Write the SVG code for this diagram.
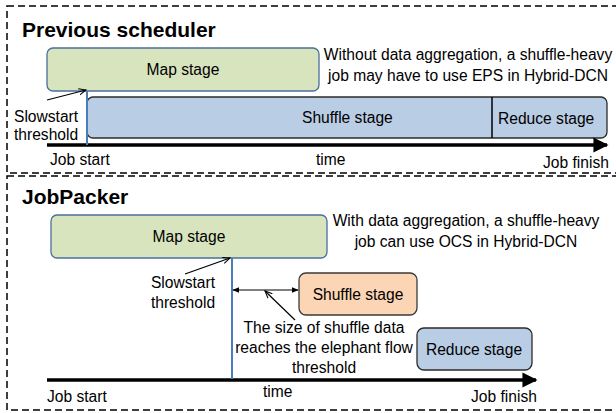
<svg xmlns="http://www.w3.org/2000/svg" width="616" height="413" viewBox="0 0 616 413">
  <style>
    text { font-family: "Liberation Sans", Arial, sans-serif; font-size: 15.6px; fill: #000; }
    .title { font-size: 21px; font-weight: bold; }
    .mid { text-anchor: middle; }
    .frame { fill: none; stroke: #000; stroke-width: 1.5; stroke-dasharray: 7 4; }
    .map { fill: #d7e4bd; stroke: #4a6f9c; stroke-width: 1.3; }
    .blue { fill: #b9cde5; stroke: #2b2b2b; stroke-width: 1.3; }
    .orange { fill: #fcd5b5; stroke: #3a3a3a; stroke-width: 1.3; }
    .axis { stroke: #000; stroke-width: 3.5; fill: none; }
    .marker-line { stroke: #4a7ebb; stroke-width: 2; }
    .pointer { stroke: #000; stroke-width: 1.2; fill: none; }
  </style>
  <defs>
    <marker id="axisHead" viewBox="0 0 10 10" refX="9" refY="5" markerWidth="4.3" markerHeight="4.3" orient="auto" markerUnits="strokeWidth">
      <path d="M0,0 L10,5 L0,10 Z" fill="#000"/>
    </marker>
    <marker id="openHead" viewBox="0 0 10 10" refX="9" refY="5" markerWidth="8" markerHeight="8" orient="auto" markerUnits="userSpaceOnUse">
      <path d="M0,1 L9,5 L0,9" fill="none" stroke="#000" stroke-width="1.3"/>
    </marker>
    <marker id="smallHead" viewBox="0 0 10 10" refX="9" refY="5" markerWidth="7" markerHeight="7" orient="auto-start-reverse" markerUnits="userSpaceOnUse">
      <path d="M0,1 L10,5 L0,9 Z" fill="#000"/>
    </marker>
  </defs>

  <!-- panel frames -->
  <rect class="frame" x="7" y="6" width="620" height="167"/>
  <rect class="frame" x="7" y="176" width="620" height="234"/>

  <!-- upper panel: previous scheduler -->
  <text class="title" x="22" y="37">Previous scheduler</text>

  <g id="prev-map">
    <rect class="map" x="47" y="48" width="272" height="43" rx="6"/>
    <text class="mid" x="183" y="75">Map stage</text>
  </g>
  <g id="prev-shuffle-reduce">
    <rect class="blue" x="87" y="97" width="520" height="41" rx="6"/>
    <line x1="492" y1="97" x2="492" y2="138" stroke="#000" stroke-width="1.5"/>
    <text x="302" y="123">Shuffle stage</text>
    <text x="498" y="124">Reduce stage</text>
  </g>
  <g id="prev-note">
    <text class="mid" x="468" y="60">Without data aggregation, a shuffle-heavy</text>
    <text class="mid" x="468" y="81">job may have to use EPS in Hybrid-DCN</text>
  </g>
  <g id="prev-slowstart">
    <text x="14" y="122">Slowstart</text>
    <text x="14" y="140">threshold</text>
  </g>
  <g id="prev-labels">
    <text x="50" y="165">Job start</text>
    <text x="316" y="165">time</text>
    <text x="543" y="168">Job finish</text>
  </g>

  <!-- lower panel: JobPacker -->
  <text class="title" x="22" y="204">JobPacker</text>

  <g id="jp-map">
    <rect class="map" x="51" y="215" width="276" height="43" rx="6"/>
    <text class="mid" x="189" y="242">Map stage</text>
  </g>
  <g id="jp-shuffle">
    <rect class="orange" x="299" y="273" width="118" height="42" rx="7"/>
    <text class="mid" x="358" y="300">Shuffle stage</text>
  </g>
  <g id="jp-reduce">
    <rect class="blue" x="417" y="328" width="115" height="42" rx="7"/>
    <text class="mid" x="474" y="355">Reduce stage</text>
  </g>
  <g id="jp-note">
    <text class="mid" x="466" y="226">With data aggregation, a shuffle-heavy</text>
    <text class="mid" x="466" y="247">job can use OCS in Hybrid-DCN</text>
  </g>
  <g id="jp-slowstart">
    <text class="mid" x="183" y="288">Slowstart</text>
    <text class="mid" x="183" y="308">threshold</text>
  </g>
  <g id="jp-elephant">
    <text class="mid" x="324" y="333">The size of shuffle data</text>
    <text class="mid" x="324" y="353">reaches the elephant flow</text>
    <text class="mid" x="324" y="373">threshold</text>
  </g>
  <g id="jp-labels">
    <text x="47" y="402">Job start</text>
    <text x="263" y="397">time</text>
    <text x="471" y="402">Job finish</text>
  </g>

  <!-- connectors -->
  <g id="connectors">
    <line class="axis" x1="47" y1="145" x2="607" y2="145" marker-end="url(#axisHead)"/>
    <line class="marker-line" x1="87" y1="91" x2="87" y2="145"/>
    <line class="pointer" x1="47" y1="100" x2="86" y2="90" marker-end="url(#openHead)"/>

    <line class="axis" x1="47" y1="380" x2="536" y2="380" marker-end="url(#axisHead)"/>
    <line class="marker-line" x1="232" y1="258" x2="232" y2="379"/>
    <line class="pointer" x1="185" y1="274" x2="230" y2="258" marker-end="url(#openHead)"/>
    <line class="pointer" x1="233" y1="290" x2="298" y2="290" marker-start="url(#smallHead)" marker-end="url(#smallHead)"/>
    <line class="pointer" x1="295" y1="320" x2="265" y2="291" marker-end="url(#openHead)"/>
  </g>
</svg>
